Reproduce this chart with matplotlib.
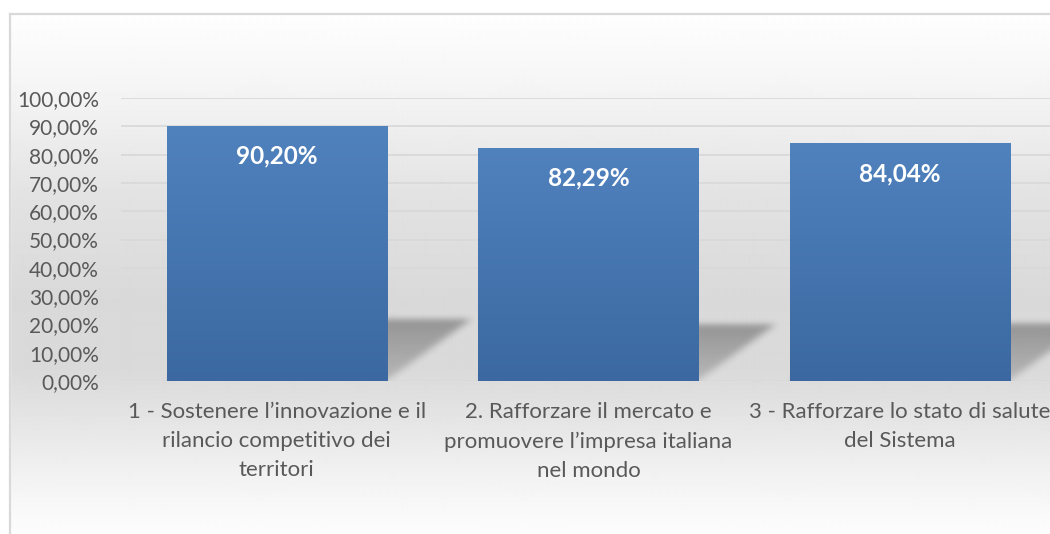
import numpy as np
import matplotlib
matplotlib.use("Agg")
import matplotlib.pyplot as plt
from matplotlib.colors import LinearSegmentedColormap
from matplotlib.patches import Rectangle

categories = [
    "1 - Sostenere l’innovazione e il\nrilancio competitivo dei\nterritori",
    "2. Rafforzare il mercato e\npromuovere l’impresa italiana\nnel mondo",
    "3 - Rafforzare lo stato di salute\ndel Sistema",
]
values = [0.9020, 0.8229, 0.8404]
yticks = [0.0, 0.1, 0.2, 0.3, 0.4, 0.5, 0.6, 0.7, 0.8, 0.9, 1.0]

W, H = 1050, 534
TEXT = "#595959"
GRID = "#d9d9d9"

plt.rcParams["font.family"] = ["Lato", "DejaVu Sans"]


def pct(v):
    return f"{v * 100:.2f}%".replace(".", ",")


fig = plt.figure(figsize=(W / 100, H / 100), dpi=100)

# background: chart area gradient + thin border (top and left visible)
bg = fig.add_axes([0, 0, 1, 1], zorder=-5)
bg.set_axis_off()
stops_px = [0, 14, 100, 200, 300, 370, 430, 480, 534]
stops_gray = [255, 254, 243, 226, 217, 218, 231, 243, 253]
rows = np.interp(np.arange(H), stops_px, stops_gray) / 255.0
img = np.repeat(rows[:, None], 4, axis=1)
bg.imshow(img, cmap="gray", vmin=0, vmax=1, extent=[0, W, H, 0], aspect="auto",
          interpolation="bilinear")
bg.add_patch(Rectangle((0, 0), 10, H, color="white", zorder=2))
bg.add_patch(Rectangle((0, 0), W, 14, color="white", zorder=2))
bg.plot([10, 10], [14, H], color="#d9d9d9", lw=1.6, zorder=3)
bg.plot([10, W], [14, 14], color="#d9d9d9", lw=1.6, zorder=3)
bg.set_xlim(0, W)
bg.set_ylim(H, 0)

ax = fig.add_axes([121 / W, (H - 381) / H, (1056 - 121) / W, (381 - 98) / H])
ax.patch.set_alpha(0)
for s in ax.spines.values():
    s.set_visible(False)

x = np.arange(len(values))
bar_w = 0.706

# perspective shadows, blurred
xlo, xhi, ylo, yhi = -0.6, 2.9, -0.03, 0.4
nx, ny = 1100, 140
gx = np.linspace(xlo, xhi, nx)
gy = np.linspace(ylo, yhi, ny)
XX, YY = np.meshgrid(gx, gy)
mask = np.zeros_like(XX)
for xi, v in zip(x, values):
    sh = 0.24 * v
    dx = 0.30 * v
    t = np.clip(YY / sh, 0, None)
    inside = (YY >= 0) & (YY <= sh) & (XX >= xi - bar_w / 2 + dx * t) & (XX <= xi + bar_w / 2 + dx * t)
    mask[inside] = 0.5 + 0.5 * t[inside]


def blur(a, r, axis):
    k = np.exp(-0.5 * (np.arange(-3 * r, 3 * r + 1) / r) ** 2)
    k /= k.sum()
    return np.apply_along_axis(lambda m: np.convolve(m, k, mode="same"), axis, a)


mask = blur(blur(mask, 4.0, 1), 3.5, 0)
shadow = np.zeros((ny, nx, 4))
shadow[..., 3] = 0.32 * mask
ax.imshow(shadow, extent=[xlo, xhi, ylo, yhi], origin="lower", aspect="auto", zorder=2,
          interpolation="bilinear")

# bars with a vertical blue gradient
cmap = LinearSegmentedColormap.from_list("bar", ["#3b68a0", "#5082be"])
grad = np.linspace(0, 1, 256)[:, None]
bars = ax.bar(x, values, width=bar_w, color="none", zorder=3)
for b, v in zip(bars, values):
    im = ax.imshow(grad, cmap=cmap, extent=[b.get_x(), b.get_x() + b.get_width(), 0, v],
                   origin="lower", aspect="auto", zorder=3)
    im.set_clip_path(b)
    ax.text(b.get_x() + b.get_width() / 2, v - 0.107, pct(v), ha="center", va="center",
            color="white", fontsize=17.5, fontweight="bold", zorder=4)

ax.set_xlim(-0.5, 2.5)
ax.set_ylim(0, 1.0)
ax.set_yticks(yticks)
ax.set_yticklabels([pct(v) for v in yticks])
ax.set_xticks(x)
ax.set_xticklabels(categories, linespacing=1.58)
ax.tick_params(axis="y", length=0, pad=16, labelsize=15, labelcolor=TEXT)
ax.tick_params(axis="x", length=0, pad=15, labelsize=16, labelcolor=TEXT)
for lab in ax.get_xticklabels():
    lab.set_verticalalignment("top")
ax.yaxis.grid(True, color=GRID, lw=1.3, zorder=0)
ax.set_axisbelow(True)

fig.savefig("out.png", dpi=100)
